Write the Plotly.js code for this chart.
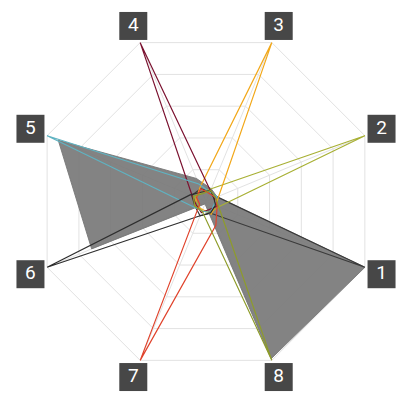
<!DOCTYPE html>
<html>
<head>
<meta charset="utf-8">
<script src="https://cdn.plot.ly/plotly-3.0.1.min.js"></script>
<style>
  html, body { margin: 0; padding: 0; background: #fff; }
  #chart { width: 410px; height: 409px; }
</style>
</head>
<body>
<div id="chart"></div>
<script>
// axis names
let axes = ['1', '2', '3', '4', '5', '6', '7', '8'];

// one series per axis, plus the filled gray one
let s1 = [1.00, 0.07, 0.06, 0.08, 0.09, 0.07, 0.09, 0.074];
let s2 = [0.08, 1.00, 0.08, 0.06, 0.07, 0.05, 0.06, 0.07];
let s3 = [0.06, 0.08, 1.00, 0.09, 0.06, 0.07, 0.05, 0.08];
let s4 = [0.07, 0.05, 0.068, 1.00, 0.087, 0.06, 0.07, 0.05];
let s5 = [0.05, 0.07, 0.06, 0.11, 1.00, 0.08, 0.06, 0.07];
let s6 = [0.06, 0.05, 0.07, 0.06, 0.10, 1.00, 0.09, 0.07];
let s7 = [0.07, 0.06, 0.05, 0.08, 0.06, 0.04, 1.00, 0.15];
let s8 = [0.08, 0.06, 0.07, 0.05, 0.08, 0.07, 0.06, 1.00];
let grayArea = [1.00, 0.07, 0.08, 0.145, 0.93, 0.72, 0.015, 0.99];

let rings = [0.2, 0.4, 0.6, 0.8, 1.0];
let labelR = 1.105;

let lineColors = ['#3a3a3a', '#a8b034', '#f2a81a', '#7b1230', '#5fb3c2', '#2e2e2e', '#e0432c', '#8e9c2a'];
let series = [s1, s2, s3, s4, s5, s6, s7, s8];

function closed(a) { return a.concat([a[0]]); }
let thetaClosed = closed(axes);

let traces = [];

// spokes from the centre to each corner
let spokeR = [], spokeT = [];
axes.forEach(function(a) {
    spokeR.push(0, 1, null);
    spokeT.push(a, a, null);
});
traces.push({type: 'scatterpolar', mode: 'lines', r: spokeR, theta: spokeT,
    line: {color: '#e2e2e2', width: 1}, hoverinfo: 'skip', showlegend: false});

traces.push({type: 'scatterpolar', mode: 'lines', r: closed(grayArea), theta: thetaClosed,
    fill: 'toself', fillcolor: 'rgba(120,120,120,0.92)',
    line: {color: 'rgba(120,120,120,0.92)', width: 1}, showlegend: false});

series.forEach(function(s, i) {
    traces.push({type: 'scatterpolar', mode: 'lines', r: closed(s), theta: thetaClosed,
        line: {color: lineColors[i], width: 1.2}, showlegend: false});
});

// label boxes
traces.push({type: 'scatterpolar', mode: 'markers+text',
    r: axes.map(function() { return labelR; }), theta: axes, text: axes,
    textposition: 'middle center', cliponaxis: false,
    marker: {symbol: 'square', size: 28, color: '#474747'},
    textfont: {family: 'Roboto', size: 19, color: '#ffffff'},
    hoverinfo: 'skip', showlegend: false});

let layout = {
    width: 410, height: 409,
    margin: {l: 0, r: 0, t: 0, b: 0},
    paper_bgcolor: '#ffffff',
    showlegend: false,
    polar: {
        domain: {x: [16 / 410, 396 / 410], y: [17.5 / 409, 397.5 / 409]},
        bgcolor: 'rgba(0,0,0,0)',
        gridshape: 'linear',
        radialaxis: {range: [0, labelR], tickvals: rings, showticklabels: false,
            ticks: '', showline: false, gridcolor: '#e2e2e2', gridwidth: 1},
        angularaxis: {type: 'category', categoryarray: axes, rotation: -22.5,
            direction: 'counterclockwise', showticklabels: false, ticks: '',
            showgrid: false, showline: false}
    }
};

Plotly.newPlot('chart', traces, layout, {staticPlot: true});
</script>
</body>
</html>
